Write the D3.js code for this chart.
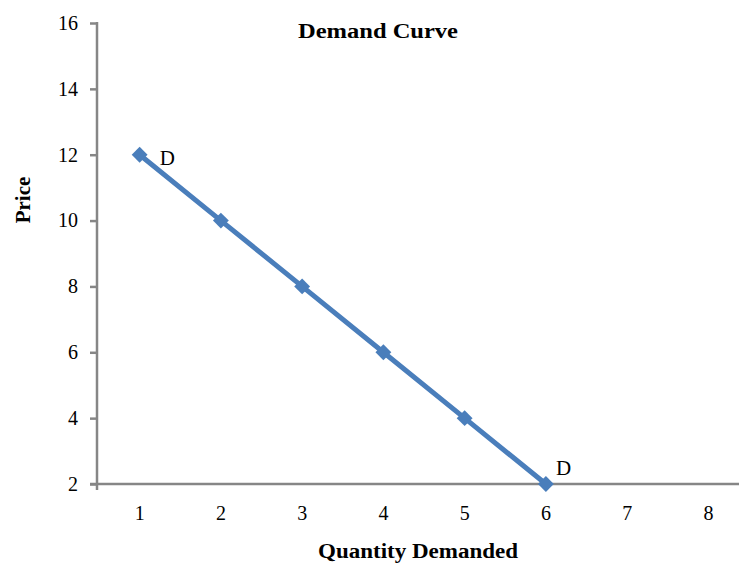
<!DOCTYPE html>
<html>
<head>
<meta charset="utf-8">
<script src="https://cdn.jsdelivr.net/npm/d3@7"></script>
<style>
  body { margin: 0; background: #fff; }
  text { font-family: "Liberation Serif", "Times New Roman", serif; fill: #000; }
</style>
</head>
<body>
<svg width="739" height="565"></svg>
<script>
let categories = [1, 2, 3, 4, 5, 6, 7, 8];
let quantity = [1, 2, 3, 4, 5, 6];
let price = [12, 10, 8, 6, 4, 2];
let yTicks = [2, 4, 6, 8, 10, 12, 14, 16];

let plotLeft = 97;
let plotTop = 23;
let plotBottom = 484;
let plotRight = 739;

const svg = d3.select("svg");

//scales
const xScale = d3.scaleBand()
  .domain(categories)
  .range([99, 749]);
const yScale = d3.scaleLinear()
  .domain([2, 16])
  .range([plotBottom, plotTop]);

//y axis
const yAxis = d3.axisLeft(yScale)
  .tickValues(yTicks)
  .tickSize(7)
  .tickPadding(12);
const gy = svg.append("g")
  .attr("transform", `translate(${plotLeft}, 0)`)
  .call(yAxis);
gy.select(".domain").remove();
gy.selectAll(".tick line").attr("stroke", "#868686").attr("stroke-width", 2.5);
gy.selectAll(".tick text").style("font-size", "20px").style("font-family", "Liberation Serif");
gy.append("line")
  .attr("x1", 0).attr("x2", 0)
  .attr("y1", plotTop - 1).attr("y2", plotBottom + 6)
  .attr("stroke", "#868686").attr("stroke-width", 2.5);

//x axis
const xAxis = d3.axisBottom(xScale).tickSize(0).tickPadding(22);
const gx = svg.append("g")
  .attr("transform", `translate(0, ${plotBottom})`)
  .call(xAxis);
gx.select(".domain").remove();
gx.selectAll(".tick text").style("font-size", "20px").style("font-family", "Liberation Serif");
svg.append("line")
  .attr("x1", plotLeft - 7).attr("x2", plotRight)
  .attr("y1", plotBottom).attr("y2", plotBottom)
  .attr("stroke", "#868686").attr("stroke-width", 2.5);

//line
const pts = quantity.map((q, i) => [xScale(q) + xScale.bandwidth() / 2, yScale(price[i])]);
svg.append("path")
  .attr("d", d3.line()(pts))
  .attr("fill", "none")
  .attr("stroke", "#4a7ebb")
  .attr("stroke-width", 5);

svg.selectAll(".mark")
  .data(pts)
  .enter()
  .append("path")
  .attr("class", "mark")
  .attr("d", d3.symbol(d3.symbolDiamond2, 160)())
  .attr("transform", (d) => `translate(${d[0]}, ${d[1]})`)
  .attr("fill", "#4a7ebb");

//D labels
svg.append("text")
  .attr("x", pts[0][0] + 20).attr("y", pts[0][1] + 10)
  .style("font-size", "21px")
  .text("D");
svg.append("text")
  .attr("x", pts[5][0] + 10).attr("y", pts[5][1] - 9)
  .style("font-size", "21px")
  .text("D");

//titles
svg.append("text")
  .attr("x", 298).attr("y", 38)
  .attr("textLength", 160).attr("lengthAdjust", "spacingAndGlyphs")
  .style("font-size", "20px").style("font-weight", "bold")
  .text("Demand Curve");
svg.append("text")
  .attr("transform", "translate(30, 200) rotate(-90)")
  .attr("text-anchor", "middle")
  .style("font-size", "21px").style("font-weight", "bold")
  .text("Price");
svg.append("text")
  .attr("x", 318).attr("y", 558)
  .attr("textLength", 200).attr("lengthAdjust", "spacingAndGlyphs")
  .style("font-size", "20px").style("font-weight", "bold")
  .text("Quantity Demanded");
</script>
</body>
</html>
